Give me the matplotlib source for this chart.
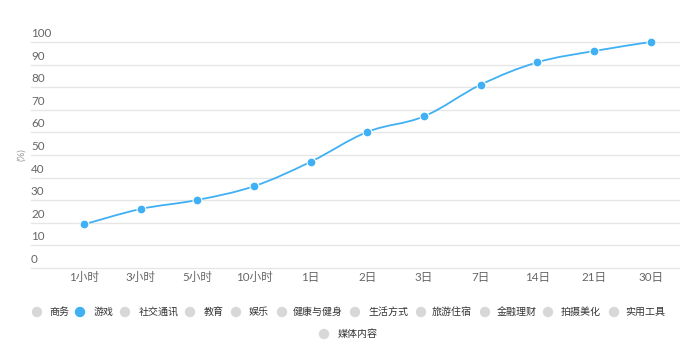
import numpy as np
import matplotlib
matplotlib.use("Agg")
import matplotlib.pyplot as plt
from matplotlib.path import Path
from matplotlib.patches import PathPatch, Circle
import matplotlib.transforms as mtransforms

plt.rcParams['font.family'] = ['Lato', 'Noto Sans CJK SC', 'DejaVu Sans']

categories = ["1小时", "3小时", "5小时", "10小时", "1日", "2日", "3日", "7日", "14日", "21日", "30日"]
values = [19.3, 26.1, 30.1, 36.2, 47.0, 60.2, 67.1, 81.1, 91.0, 96.0, 100.0]
y_ticks = [0, 10, 20, 30, 40, 50, 60, 70, 80, 90, 100]
legend_names = ["商务", "游戏", "社交通讯", "教育", "娱乐", "健康与健身", "生活方式",
                "旅游住宿", "金融理财", "拍摄美化", "实用工具", "媒体内容"]
active_series = "游戏"

W, H = 690, 357
fig = plt.figure(figsize=(W / 100, H / 100), dpi=100)
ax_left, ax_right, ax_top, ax_bottom = 31, 679, 42, 268
ax = fig.add_axes([ax_left / W, (H - ax_bottom) / H, (ax_right - ax_left) / W, (ax_bottom - ax_top) / H])
ax.set_xlim(-0.935, len(categories) - 0.5)
ax.set_ylim(0, 100)
for s in ax.spines.values():
    s.set_visible(False)
ax.set_xticks([])
ax.set_yticks([])

blue = '#40b0f4'
grid_c = '#e6e6e6'
for t in y_ticks:
    ax.axhline(t, color=grid_c, lw=1.0, zorder=1, clip_on=False)
    tr = mtransforms.offset_copy(ax.get_yaxis_transform(), fig=fig, x=0, y=3, units='dots')
    ax.text(0, t, str(t), transform=tr, ha='left', va='bottom', fontsize=8.4, color='#666666')

# x tick labels
xt = mtransforms.offset_copy(ax.get_xaxis_transform(), fig=fig, x=0, y=-9, units='dots')
for i, c in enumerate(categories):
    ax.text(i, 0, c, transform=xt, ha='center', va='center', fontsize=8.4, color='#666666',
            family=['Lato', 'Noto Sans CJK SC'])

fig.text(22 / W, 1 - 155 / H, "(%)", rotation=90, ha='center', va='center', fontsize=7, color='#999999')

# smooth curve (Catmull-Rom -> Bezier)
x = np.arange(len(values), dtype=float)
y = np.array(values, dtype=float)
pts = np.column_stack([x, y])
verts = [tuple(pts[0])]
codes = [Path.MOVETO]
k = 0.18
for i in range(len(pts) - 1):
    p0 = pts[i - 1] if i > 0 else pts[i]
    p1 = pts[i]
    p2 = pts[i + 1]
    p3 = pts[i + 2] if i + 2 < len(pts) else pts[i + 1]
    c1 = p1 + (p2 - p0) * k
    c2 = p2 - (p3 - p1) * k
    verts += [tuple(c1), tuple(c2), tuple(p2)]
    codes += [Path.CURVE4] * 3
patch = PathPatch(Path(verts, codes), facecolor='none', edgecolor=blue, lw=1.3, zorder=3, clip_on=False)
ax.add_patch(patch)
ax.plot(x, y, 'o', color=blue, ms=6.4, mec='white', mew=0.8, zorder=4, clip_on=False)

# legend
row1_circles = [37, 80, 125, 190, 236, 282, 355, 421, 485, 548, 614]
row1_texts = [49, 94, 139, 204, 249, 293, 368, 432, 497, 561, 625]
row_y = [312, 334]
for i, name in enumerate(legend_names):
    if i < 11:
        cx, tx, yy = row1_circles[i], row1_texts[i], row_y[0]
    else:
        cx, tx, yy = 324, 338, row_y[1]
    col = blue if name == active_series else '#d8d8d8'
    fig.patches.append(Circle((cx, H - yy), 5.2, transform=None, facecolor=col, edgecolor='none'))
    fig.text(tx / W, 1 - yy / H, name, ha='left', va='center', fontsize=7.2, color='#333333',
             family=['Noto Sans CJK SC', 'DejaVu Sans'])

fig.savefig('out.png', dpi=100, facecolor='white')
